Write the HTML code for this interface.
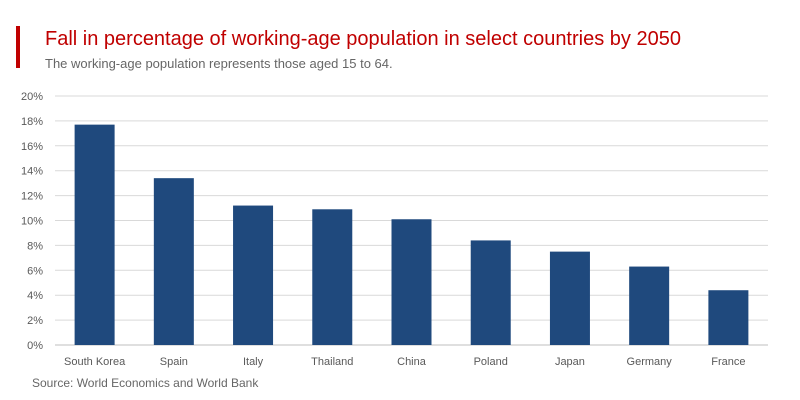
<!DOCTYPE html>
<html><head><meta charset="utf-8"><style>
body{margin:0;background:#fff;font-family:"Liberation Sans",sans-serif;}
#wrap{position:relative;width:800px;height:400px;overflow:hidden;}
</style></head><body>
<div id="wrap">
<div style="position:absolute;left:16px;top:26px;width:4px;height:42px;background:#c00000"></div>
<div style="position:absolute;left:45px;top:28px;font-size:20px;color:#c00000;white-space:nowrap">Fall in percentage of working-age population in select countries by 2050</div>
<div style="position:absolute;left:45px;top:56px;font-size:13px;color:#666">The working-age population represents those aged 15 to 64.</div>
<svg id="chart" width="800" height="400" style="position:absolute;left:0;top:0"></svg>
<div style="position:absolute;left:32px;top:376px;font-size:12px;color:#666">Source: World Economics and World Bank</div>
</div>
<script>
const categories=["South Korea","Spain","Italy","Thailand","China","Poland","Japan","Germany","France"];
const values=[17.7,13.4,11.2,10.9,10.1,8.4,7.5,6.3,4.4];
const ticks=[0,2,4,6,8,10,12,14,16,18,20];
const NS="http://www.w3.org/2000/svg";
const svg=document.getElementById("chart");
const x0=55,x1=768,y0=345,y1=96,maxV=20;
const band=(x1-x0)/categories.length,barW=40;
const y=v=>y0-(v/maxV)*(y0-y1);
const xc=i=>x0+band*(i+0.5);
function mk(t,a){const e=document.createElementNS(NS,t);for(const k in a)e.setAttribute(k,a[k]);svg.appendChild(e);return e;}
ticks.forEach(t=>{
  const l=mk("line",{x1:x0,x2:x1,y1:y(t),y2:y(t),stroke:t===0?"#bfbfbf":"#d9d9d9","stroke-width":1});
  
  
  const tx=mk("text",{x:43,y:y(t)+4,"text-anchor":"end","font-size":"11","fill":"#595959","font-family":"Liberation Sans, sans-serif"});
  tx.textContent=t+"%";
  
  
});
categories.forEach((c,i)=>{
  const r=mk("rect",{x:xc(i)-barW/2,y:y(values[i]),width:barW,height:y0-y(values[i]),fill:"#1f497d"});
  
  
  const tx=mk("text",{x:xc(i),y:365,"text-anchor":"middle","font-size":"11","fill":"#595959","font-family":"Liberation Sans, sans-serif"});
  tx.textContent=c;
  
  
});
</script>
</body></html>
